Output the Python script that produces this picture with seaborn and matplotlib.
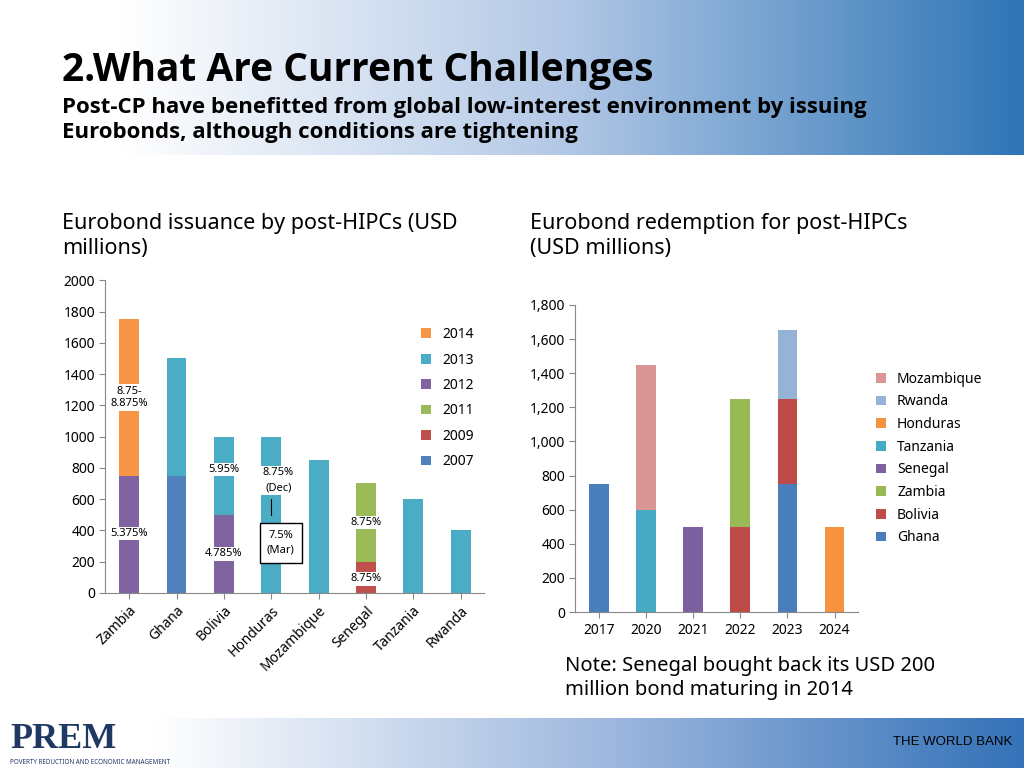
import numpy as np
import matplotlib
matplotlib.use("Agg")
import matplotlib.pyplot as plt
import seaborn as sns
from matplotlib.colors import LinearSegmentedColormap

sns.set_style("white")
plt.rcParams['font.family'] = ['Noto Sans', 'DejaVu Sans']
plt.rcParams['text.color'] = 'black'
plt.rcParams['xtick.color'] = 'black'
plt.rcParams['ytick.color'] = 'black'

# ---- data: issuance ----
countries = ["Zambia", "Ghana", "Bolivia", "Honduras", "Mozambique", "Senegal", "Tanzania", "Rwanda"]
iss_years = ["2007", "2009", "2011", "2012", "2013", "2014"]
iss_2007 = [0, 750, 0, 0, 0, 0, 0, 0]
iss_2009 = [0, 0, 0, 0, 0, 200, 0, 0]
iss_2011 = [0, 0, 0, 0, 0, 500, 0, 0]
iss_2012 = [750, 0, 500, 0, 0, 0, 0, 0]
iss_2013 = [0, 750, 500, 1000, 850, 0, 600, 400]
iss_2014 = [1000, 0, 0, 0, 0, 0, 0, 0]
iss_colors = ["#4F81BD", "#C0504D", "#9BBB59", "#8064A2", "#4BACC6", "#F79646"]

# ---- data: redemption ----
red_years = ["2017", "2020", "2021", "2022", "2023", "2024"]
red_series = ["Ghana", "Bolivia", "Zambia", "Senegal", "Tanzania", "Honduras", "Rwanda", "Mozambique"]
red_ghana = [750, 0, 0, 0, 750, 0]
red_bolivia = [0, 0, 0, 500, 500, 0]
red_zambia = [0, 0, 0, 750, 0, 0]
red_senegal = [0, 0, 500, 0, 0, 0]
red_tanzania = [0, 600, 0, 0, 0, 0]
red_honduras = [0, 0, 0, 0, 0, 500]
red_rwanda = [0, 0, 0, 0, 400, 0]
red_mozambique = [0, 850, 0, 0, 0, 0]
red_colors = ["#4A7EBB", "#BE4B48", "#98B954", "#7D60A0", "#46AAC5", "#F69240", "#95B3D7", "#D99694"]

fig = plt.figure(figsize=(10.24, 7.68), dpi=100)

# backgrounds
cmap = LinearSegmentedColormap.from_list("g", [(0, "#FFFFFF"), (0.12, "#FFFFFF"), (0.55, "#B3C8E6"), (1, "#2E75B6")])
grad = np.linspace(0, 1, 256)[None, :]
hax = fig.add_axes([0, 1 - 155/768, 1, 155/768]); hax.imshow(grad, aspect="auto", cmap=cmap); hax.axis("off")
fax = fig.add_axes([0, 0, 1, 50/768]); fax.imshow(grad, aspect="auto", cmap=LinearSegmentedColormap.from_list("f", [(0, "#FFFFFF"), (0.15, "#FFFFFF"), (0.6, "#9DB7DE"), (1, "#3472B8")])); fax.axis("off")

fig.text(62/1024, 1 - 70/768, "2.What Are Current Challenges", fontsize=28, fontweight="bold", va="center", family="Open Sans")
fig.text(62/1024, 1 - 120/768, "Post-CP have benefitted from global low-interest environment by issuing\nEurobonds, although conditions are tightening",
         fontsize=16, fontweight="bold", va="center", linespacing=1.2, family="Open Sans")
fig.text(62/1024, 1 - 236/768, "Eurobond issuance by post-HIPCs (USD\nmillions)", fontsize=15.5, va="center", linespacing=1.3)
fig.text(530/1024, 1 - 236/768, "Eurobond redemption for post-HIPCs\n(USD millions)", fontsize=15.5, va="center", linespacing=1.3)
fig.text(565/1024, 1 - 678/768, "Note: Senegal bought back its USD 200\nmillion bond maturing in 2014", fontsize=14.5, va="center", linespacing=1.3)
fig.text(10/1024, 1 - 740/768, "PREM", fontsize=26, fontweight="bold", color="#1F3864", family="Liberation Serif", va="center")
fig.text(10/1024, 1 - 763/768, "POVERTY REDUCTION AND ECONOMIC MANAGEMENT", fontsize=4.5, color="#1F3864", va="center")
fig.text(893/1024, 1 - 742/768, "THE WORLD BANK", fontsize=9.5, family="Liberation Sans", va="center")

# ---- left chart ----
ax = fig.add_axes([0.103, 0.228, 0.370, 0.407])
x = np.arange(len(countries))
bottom = np.zeros(len(countries))
for yr, vals, c in zip(iss_years, [iss_2007, iss_2009, iss_2011, iss_2012, iss_2013, iss_2014], iss_colors):
    ax.bar(x, vals, 0.42, bottom=bottom, color=c, label=yr, linewidth=0)
    bottom += np.array(vals)
ax.set_ylim(0, 2000)
ax.set_yticks(range(0, 2001, 200))
ax.set_xlim(-0.5, len(countries) - 0.5)
ax.set_xticks(x)
ax.set_xticklabels(countries, rotation=45, ha="right", rotation_mode="anchor", fontsize=10)
ax.tick_params(axis="y", labelsize=10, length=4, left=True, color="#888888")
ax.tick_params(axis="x", length=4, bottom=True, color="#888888")
for s in ["top", "right"]:
    ax.spines[s].set_visible(False)
for s in ["left", "bottom"]:
    ax.spines[s].set_color("#888888")
h, l = ax.get_legend_handles_labels()
ax.legend(h[::-1], l[::-1], loc="upper left", bbox_to_anchor=(0.8, 0.89), frameon=False, fontsize=10,
          handlelength=0.7, handleheight=0.7, labelspacing=0.75)
box = dict(facecolor="white", edgecolor="none", pad=1)
for xi, yi, t in [(0, 1250, "8.75-\n8.875%"), (0, 380, "5.375%"), (2, 790, "5.95%"), (2, 250, "4.785%"),
                  (5.0, 450, "8.75%"), (5.0, 90, "8.75%")]:
    ax.text(xi, yi, t, ha="center", va="center", fontsize=8, bbox=box)
ax.text(3.15, 720, "8.75%\n(Dec)", ha="center", va="center", fontsize=8, bbox=box, linespacing=1.5)
ax.plot([3.0, 3.0], [500, 600], color="black", lw=0.8)
ax.text(3.2, 320, "7.5%\n(Mar)", ha="center", va="center", fontsize=8, linespacing=1.5,
        bbox=dict(facecolor="white", edgecolor="black", pad=5))

# ---- right chart ----
ax2 = fig.add_axes([0.562, 0.203, 0.276, 0.400])
x2 = np.arange(len(red_years))
bottom = np.zeros(len(red_years))
for nm, vals, c in zip(red_series, [red_ghana, red_bolivia, red_zambia, red_senegal, red_tanzania,
                                    red_honduras, red_rwanda, red_mozambique], red_colors):
    ax2.bar(x2, vals, 0.42, bottom=bottom, color=c, label=nm, linewidth=0)
    bottom += np.array(vals)
ax2.set_ylim(0, 1800)
ax2.set_yticks(range(0, 1801, 200))
ax2.set_yticklabels([f"{v:,}" for v in range(0, 1801, 200)], fontsize=10)
ax2.set_xlim(-0.5, len(red_years) - 0.5)
ax2.set_xticks(x2)
ax2.set_xticklabels(red_years, fontsize=10)
ax2.tick_params(axis="y", length=4, left=True, color="#888888")
ax2.tick_params(axis="x", length=4, bottom=True, color="#888888")
for s in ["top", "right"]:
    ax2.spines[s].set_visible(False)
for s in ["left", "bottom"]:
    ax2.spines[s].set_color("#888888")
h, l = ax2.get_legend_handles_labels()
ax2.legend(h[::-1], l[::-1], loc="center left", bbox_to_anchor=(1.02, 0.5), frameon=False, fontsize=10,
           handlelength=0.7, handleheight=0.7, labelspacing=0.55)

fig.savefig("out.png", dpi=100)
